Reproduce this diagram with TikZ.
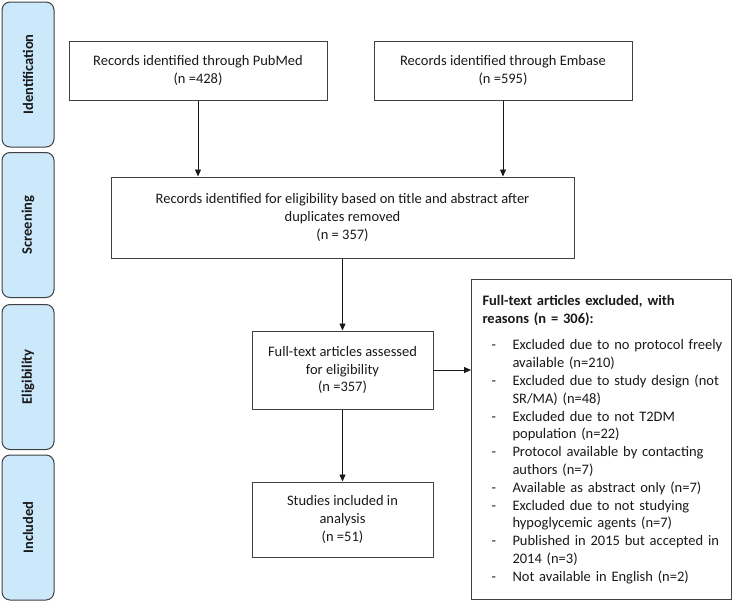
\documentclass[tikz,border=0pt]{standalone}
\usepackage{fontspec}
\setmainfont{Carlito}
\usepackage{xcolor}
\usetikzlibrary{arrows.meta}

\definecolor{stageblue}{HTML}{CCE8FB}
\definecolor{boxline}{HTML}{404040}

\newcommand{\reason}[1]{\par\hangindent = 30pt\hangafter = 1\noindent\makebox[30pt][l]{\hspace{9pt}-}#1}

\begin{document}
\begin{tikzpicture}[x = 1pt, y = -1pt,
		every node/.style = {font = \fontsize{14.5}{17.8}\selectfont, text = black!90},
		stage/.style = {draw = boxline, line width = 1pt, fill = stageblue, rounded corners = 8pt, rotate = 90, minimum width = 145pt, minimum height = 52pt, inner sep = 0pt, font = \fontsize{14.5}{17.8}\selectfont\bfseries},
		record/.style = {draw = boxline, line width = 1pt, align = center, inner sep = 0pt},
		flow/.style = {-{Stealth[inset = 0pt, length = 7pt, width = 6pt]}, line width = 0.8pt, draw = black!90}]
			
			\useasboundingbox (0,0) rectangle (733,603);
			
			% stages on the left
			\node [stage] (ident) at (28, 74.5) {Identification};
			\node [stage] (screen) at (28, 225) {Screening};
			\node [stage] (elig) at (28, 377) {Eligibility};
			\node [stage] (incl) at (28, 527.5) {Included};
			
			% records
			\node [record, minimum width = 258pt, minimum height = 59pt] (pubmed) at (198, 70.5) {Records identified through PubMed\\(n =428)};
			\node [record, minimum width = 258pt, minimum height = 59pt] (embase) at (503, 70.5) {Records identified through Embase\\(n =595)};
			\node [record, minimum width = 463pt, minimum height = 81pt] (dedup) at (342.5, 217.5) {Records identified for eligibility based on title and abstract after\\duplicates removed\\(n = 357)};
			\node [record, minimum width = 181pt, minimum height = 78pt] (fulltext) at (342.5, 370) {Full-text articles assessed\\for eligibility\\(n =357)};
			\node [record, minimum width = 181pt, minimum height = 75pt] (studies) at (342.5, 519.5) {Studies included in\\analysis\\(n =51)};
			
			\node [record, anchor = north west, minimum width = 260pt, minimum height = 320pt, text width = 238pt, align = left] (excluded) at (471, 279) {%
				\textbf{Full-text articles excluded, with\\reasons (n = 306):}\par\vspace{9pt}
				\reason{\mbox{Excluded due to no protocol freely}\newline available (n=210)}
				\reason{\mbox{Excluded due to study design (not}\newline SR/MA) (n=48)}
				\reason{\mbox{Excluded due to not T2DM}\newline population (n=22)}
				\reason{\mbox{Protocol available by contacting}\newline authors (n=7)}
				\reason{\mbox{Available as abstract only (n=7)}}
				\reason{\mbox{Excluded due to not studying}\newline hypoglycemic agents (n=7)}
				\reason{\mbox{Published in 2015 but accepted in}\newline 2014 (n=3)}
				\reason{\mbox{Not available in English (n=2)}}};
			
			\draw [flow] (pubmed.south) -- (pubmed.south |- dedup.north);
			\draw [flow] (embase.south) -- (embase.south |- dedup.north);
			\draw [flow] (dedup.south) -- (fulltext.north);
			\draw [flow] (fulltext.south) -- (studies.north);
			\draw [flow] (fulltext.east) -- (fulltext.east -| excluded.west);
			
		\end{tikzpicture}
\end{document}
